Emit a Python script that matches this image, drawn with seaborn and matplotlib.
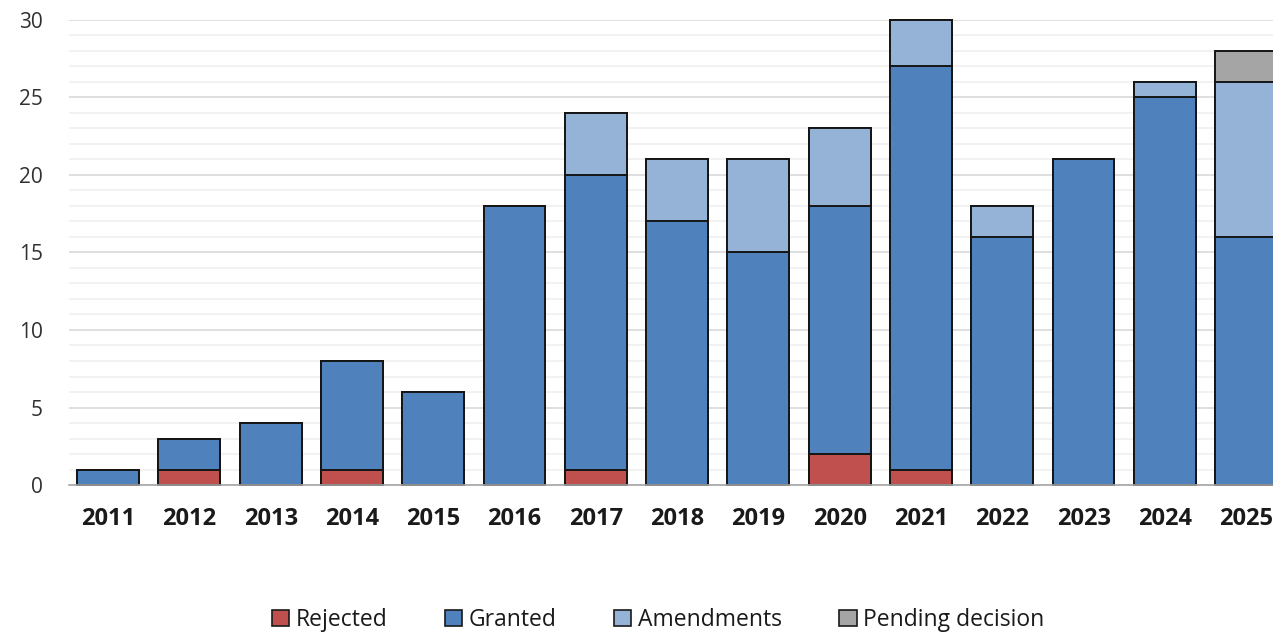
import numpy as np
import pandas as pd
import matplotlib.pyplot as plt
from matplotlib.patches import Patch
from matplotlib.ticker import MultipleLocator
import seaborn as sns

years = [str(y) for y in range(2011, 2026)]
rejected = [0, 1, 0, 1, 0, 0, 1, 0, 0, 2, 1, 0, 0, 0, 0]
granted = [1, 2, 4, 7, 6, 18, 19, 17, 15, 16, 26, 16, 21, 25, 16]
amendments = [0, 0, 0, 0, 0, 0, 4, 4, 6, 5, 3, 2, 0, 1, 10]
pending = [0, 0, 0, 0, 0, 0, 0, 0, 0, 0, 0, 0, 0, 0, 2]

labels = ['Rejected', 'Granted', 'Amendments', 'Pending decision']
colors = ['#c0504d', '#4f81bd', '#95b3d7', '#a5a5a5']

df = pd.DataFrame({'year': years, 'Rejected': rejected, 'Granted': granted,
                   'Amendments': amendments, 'Pending decision': pending})
cum = df[labels].cumsum(axis=1)

sns.set_theme(style="white")
plt.rcParams['font.family'] = ['Open Sans', 'DejaVu Sans']

fig = plt.figure(figsize=(12.73, 6.34), dpi=100)
ax = fig.add_axes([0.0542, 0.235, 0.9458, 0.7335])

# draw stacks from the top down so each lower segment covers the one above
for lab, col in reversed(list(zip(labels, colors))):
    sns.barplot(x=df['year'], y=cum[lab], color=col, width=0.76, saturation=1,
                edgecolor='#151515', linewidth=1.4, ax=ax)

ax.set_xlim(-0.48, 14.33)
ax.set_ylim(0, 30)
ax.yaxis.set_major_locator(MultipleLocator(5))
ax.yaxis.set_minor_locator(MultipleLocator(1))
ax.grid(axis='y', which='major', color='#d9d9d9', linewidth=1.2)
ax.grid(axis='y', which='minor', color='#f0f0f0', linewidth=1.2)
ax.set_axisbelow(True)
for p in ax.patches:
    p.set_clip_on(False)

for s in ['left', 'right', 'top']:
    ax.spines[s].set_visible(False)
ax.spines['bottom'].set_color('#a6a6a6')
ax.spines['bottom'].set_linewidth(1.2)

ax.set_xlabel('')
ax.set_ylabel('')
ax.tick_params(axis='y', which='both', length=0, labelsize=15, labelcolor='#303030', pad=19)
ax.tick_params(axis='x', length=0, labelsize=17, labelcolor='#1a1a1a', pad=16)
for t in ax.get_xticklabels():
    t.set_fontweight('bold')

handles = [Patch(facecolor=c, edgecolor='#1a1a1a', linewidth=1.2) for c in colors]
fig.legend(handles, labels, loc='center', bbox_to_anchor=(0.517, 0.022), ncol=4,
           frameon=False, fontsize=16.5, handlelength=0.75, handleheight=0.75,
           handletextpad=0.3, columnspacing=2.5, labelcolor='#1a1a1a')

fig.savefig('out.png', dpi=100)
